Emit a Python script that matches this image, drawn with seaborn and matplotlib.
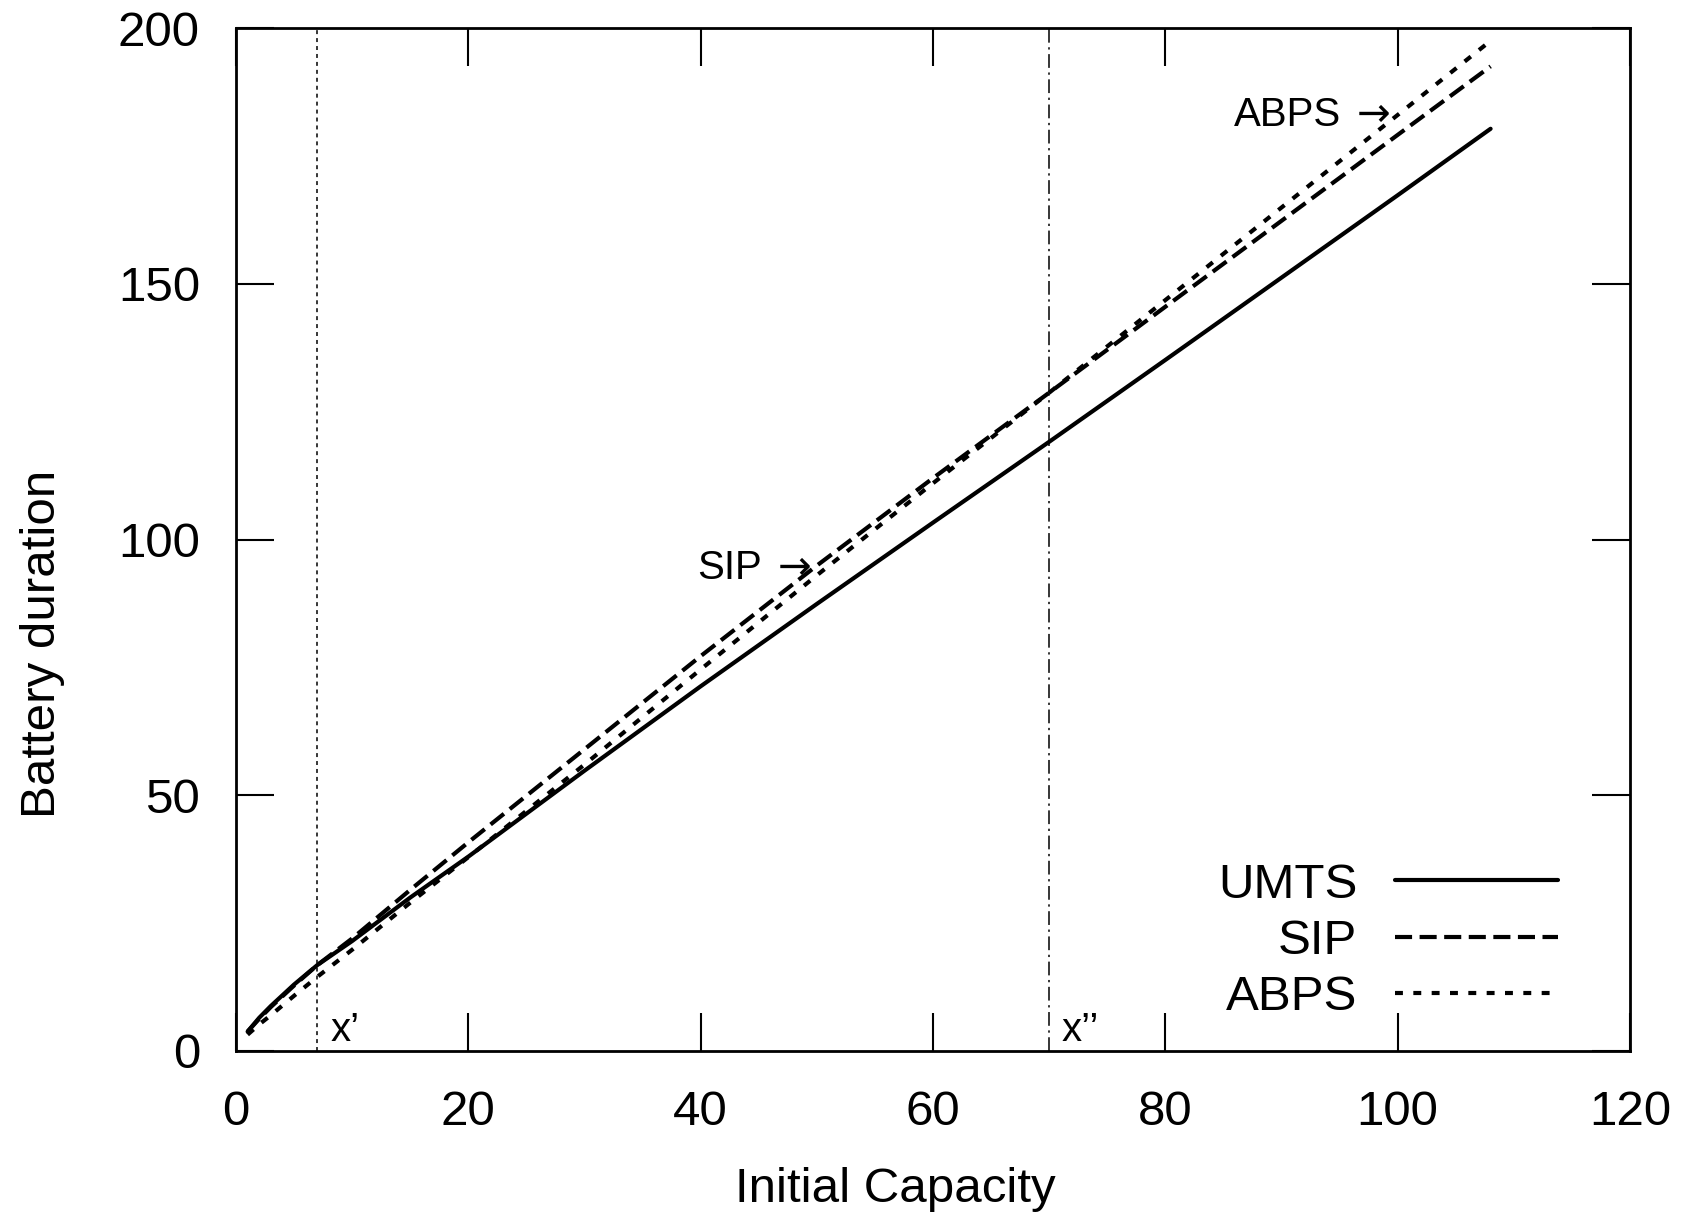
import numpy as np
import pandas as pd
import matplotlib
matplotlib.use("Agg")
import matplotlib.pyplot as plt
import seaborn as sns

capacity = [1, 2, 3, 5, 7, 10, 15, 20, 30, 40, 50, 60, 70, 80, 90, 100, 108]
umts = [3.8, 6.5, 8.8, 13.0, 16.8, 21.5, 30.0, 38.0, 54.8, 71.3, 87.4, 103.3, 119.1, 135.1, 151.2, 167.3, 180.3]
sip = [3.8, 6.3, 8.6, 12.8, 16.8, 22.0, 31.5, 40.8, 59.0, 77.2, 94.9, 112.0, 128.7, 145.5, 162.3, 179.1, 192.5]
abps = [3.2, 5.2, 7.0, 10.8, 14.5, 19.8, 29.0, 37.9, 56.0, 74.6, 93.0, 111.0, 128.7, 146.8, 164.9, 183.0, 197.5]
series_names = ["UMTS", "SIP", "ABPS"]
x_prime = 7
x_dprime = 70
x_ticks = [0, 20, 40, 60, 80, 100, 120]
y_ticks = [0, 50, 100, 150, 200]

sns.set_style("ticks")
plt.rcParams["font.family"] = ["Liberation Sans", "DejaVu Sans"]
plt.rcParams["text.color"] = "black"
plt.rcParams["axes.labelcolor"] = "black"
plt.rcParams["xtick.color"] = "black"
plt.rcParams["ytick.color"] = "black"
plt.rcParams["axes.edgecolor"] = "black"

df = pd.DataFrame({
    "Initial Capacity": capacity * 3,
    "Battery duration": umts + sip + abps,
    "series": [s for s in series_names for _ in capacity],
})

fig = plt.figure(figsize=(16.82, 12.26), dpi=100)
ax = fig.add_axes([236 / 1682, 1 - 1051 / 1226, 1394 / 1682, 1023 / 1226])

styles = {"UMTS": None, "SIP": (4.1, 1.8), "ABPS": (1.9, 2.5)}
for name in series_names:
    sub = df[df["series"] == name]
    sns.lineplot(data=sub, x="Initial Capacity", y="Battery duration", ax=ax,
                 color="black", linewidth=3.0, label=name, estimator=None)
    if styles[name] is not None:
        ax.lines[-1].set_dashes(styles[name])

ax.axvline(x_prime, color="black", linewidth=1.1, linestyle=(0, (2.6, 2.6)))
ax.axvline(x_dprime, color="black", linewidth=1.1, linestyle=(0, (9, 3, 1.5, 3)))
ax.text(x_prime + 1.1, 2.0, "x\u2019", fontsize=29)
ax.text(x_dprime + 1.1, 2.0, "x\u2019\u2019", fontsize=29)

ax.text(39.7, 94.5, "SIP", fontsize=29, va="center")
ax.text(46.6, 94.5, "\u2192", fontsize=29, va="center", family="DejaVu Sans")
ax.text(85.9, 183.0, "ABPS", fontsize=29, va="center")
ax.text(96.5, 183.0, "\u2192", fontsize=29, va="center", family="DejaVu Sans")

ax.set_xlim(0, 120)
ax.set_ylim(0, 200)
ax.set_xticks(x_ticks)
ax.set_yticks(y_ticks)
ax.tick_params(axis="both", direction="in", length=27.5, width=1.5, labelsize=35.5,
               top=True, right=True)
ax.tick_params(axis="y", pad=26)
ax.tick_params(axis="x", pad=28)
for sp in ax.spines.values():
    sp.set_visible(True)
    sp.set_linewidth(2.0)
ax.set_xlabel("Initial Capacity", fontsize=35.5)
ax.set_ylabel("Battery duration", fontsize=35.5)
ax.xaxis.set_label_coords(0.473, -0.113)
ax.yaxis.set_label_coords(-0.1227, 0.398)

leg = ax.legend(loc="lower right", bbox_to_anchor=(0.948, 0.030), frameon=False,
                markerfirst=False, fontsize=35.5, handlelength=3.3,
                labelspacing=0.23, handletextpad=0.76, borderpad=0,
                borderaxespad=0, alignment="right")
for t in leg.get_texts():
    t.set_ha("right")

fig.savefig("out.png", dpi=100)
